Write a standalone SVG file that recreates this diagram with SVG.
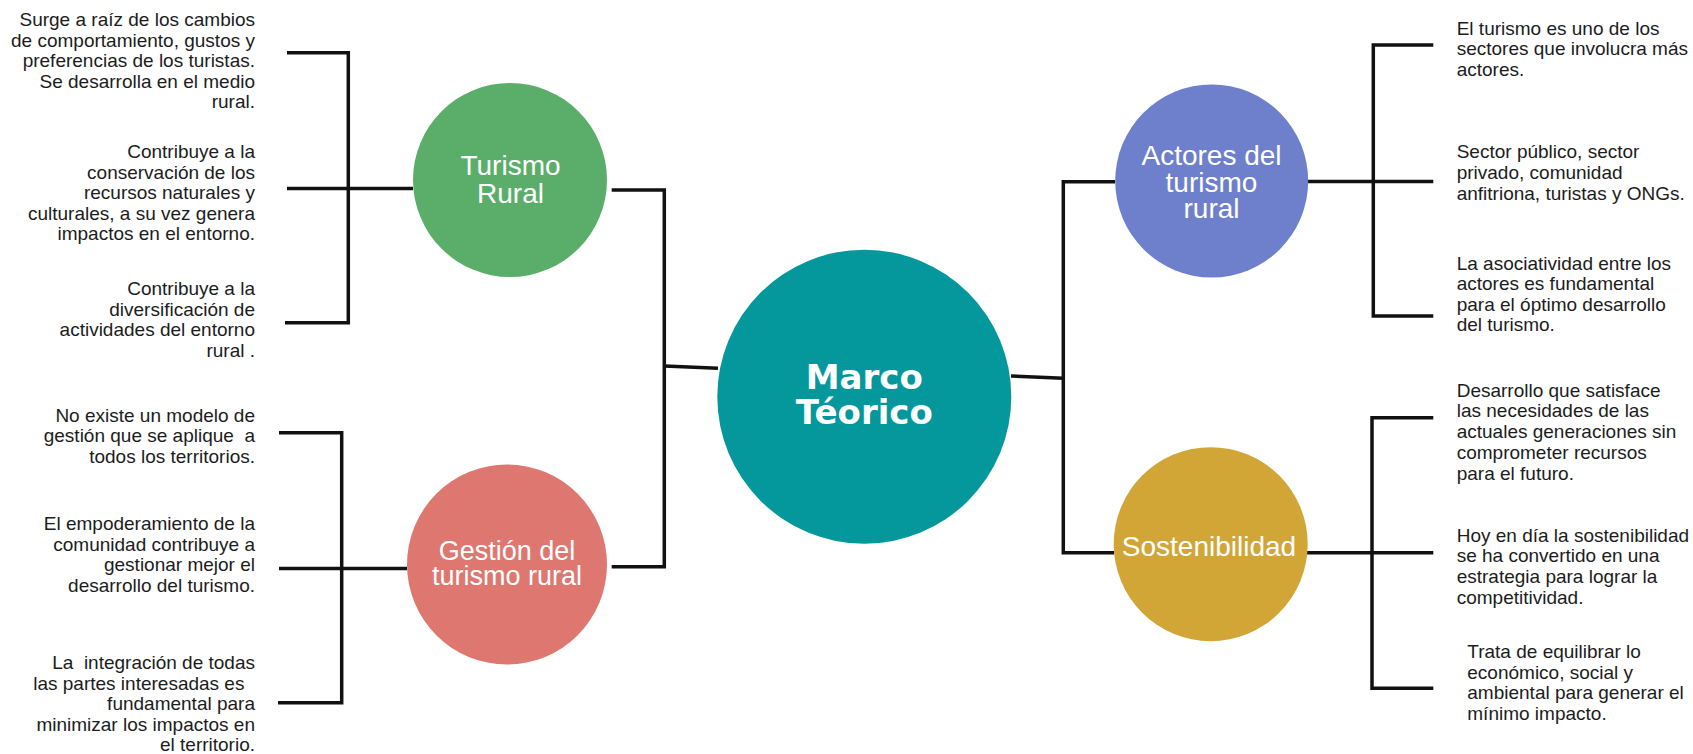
<svg xmlns="http://www.w3.org/2000/svg" width="1693" height="754" viewBox="0 0 1693 754">
<style>
  .bg { fill: #ffffff; }
  .conn { fill: none; stroke: #111111; stroke-width: 3.5; stroke-linecap: butt; stroke-linejoin: miter; }
  .body { font-family: "Liberation Sans", Arial, sans-serif; font-size: 19px; fill: #1c1c1c; white-space: pre; }
  .left { text-anchor: end; }
  .label { font-family: "Liberation Sans", Arial, sans-serif; font-size: 28px; fill: #ffffff; text-anchor: middle; }
  .title { font-family: "DejaVu Sans", sans-serif; font-weight: bold; font-size: 34px; fill: #ffffff; text-anchor: middle; }
</style>
<rect class="bg" x="0" y="0" width="1693" height="754"/>

<g id="connectors">
  <!-- left upper bracket (Turismo Rural) -->
  <path class="conn" d="M287,52.7 H348.3 V322.7 H285"/>
  <path class="conn" d="M287,188.5 H413"/>
  <!-- left lower bracket (Gestión) -->
  <path class="conn" d="M279,432.7 H341.7 V702.7 H278"/>
  <path class="conn" d="M279,568.5 H407"/>
  <!-- center-left bracket -->
  <path class="conn" d="M611.7,190 H664.3 V566.7 H611.7"/>
  <path class="conn" d="M664.3,366 L718,368.3"/>
  <!-- center-right bracket -->
  <path class="conn" d="M1011,376 L1063.3,378.3"/>
  <path class="conn" d="M1115,181.7 H1063.3 V552.7 H1114"/>
  <!-- right upper bracket (Actores) -->
  <path class="conn" d="M1433.3,45 H1373.3 V316 H1433.3"/>
  <path class="conn" d="M1308,181.5 H1433.3"/>
  <!-- right lower bracket (Sostenibilidad) -->
  <path class="conn" d="M1433.3,417.7 H1372 V688.3 H1433.3"/>
  <path class="conn" d="M1307,552.7 H1433.3"/>
</g>

<g id="node-marco">
  <circle cx="864.3" cy="396.7" r="147" fill="#04979C"/>
  <text class="title"><tspan x="864.3" y="389.3">Marco</tspan><tspan x="864.3" y="424">Téorico</tspan></text>
</g>

<g id="node-turismo-rural">
  <circle cx="510" cy="180" r="97" fill="#5BAE6A"/>
  <text class="label"><tspan x="510.5" y="175">Turismo</tspan><tspan x="510.5" y="202.7">Rural</tspan></text>
</g>

<g id="node-gestion">
  <circle cx="507" cy="564.5" r="100" fill="#DE7770"/>
  <text class="label" style="font-size:27px"><tspan x="507" y="560">Gestión del</tspan><tspan x="507" y="585">turismo rural</tspan></text>
</g>

<g id="node-actores">
  <circle cx="1211.7" cy="181" r="96.5" fill="#6E80CC"/>
  <text class="label"><tspan x="1211.5" y="165">Actores del</tspan><tspan x="1211.5" y="191.7">turismo</tspan><tspan x="1211.5" y="218.3">rural</tspan></text>
</g>

<g id="node-sostenibilidad">
  <circle cx="1210.7" cy="544.2" r="97" fill="#D1A637"/>
  <text class="label"><tspan x="1209" y="556">Sostenibilidad</tspan></text>
</g>

<g id="text-tr-1">
  <text class="body left"><tspan x="255" y="26">Surge a raíz de los cambios</tspan><tspan x="255" y="46.5">de comportamiento, gustos y</tspan><tspan x="255" y="67">preferencias de los turistas.</tspan><tspan x="255" y="87.5">Se desarrolla en el medio</tspan><tspan x="255" y="108">rural.</tspan></text>
</g>
<g id="text-tr-2">
  <text class="body left"><tspan x="255" y="158">Contribuye a la</tspan><tspan x="255" y="178.5">conservación de los</tspan><tspan x="255" y="199">recursos naturales y</tspan><tspan x="255" y="219.5">culturales, a su vez genera</tspan><tspan x="255" y="240">impactos en el entorno.</tspan></text>
</g>
<g id="text-tr-3">
  <text class="body left"><tspan x="255" y="295">Contribuye a la</tspan><tspan x="255" y="315.5">diversificación de</tspan><tspan x="255" y="336">actividades del entorno</tspan><tspan x="255" y="356.5">rural .</tspan></text>
</g>
<g id="text-g-1">
  <text class="body left"><tspan x="255" y="421.5">No existe un modelo de</tspan><tspan x="255" y="442">gestión que se aplique  a</tspan><tspan x="255" y="462.5">todos los territorios.</tspan></text>
</g>
<g id="text-g-2">
  <text class="body left"><tspan x="255" y="530">El empoderamiento de la</tspan><tspan x="255" y="550.5">comunidad contribuye a</tspan><tspan x="255" y="571">gestionar mejor el</tspan><tspan x="255" y="591.5">desarrollo del turismo.</tspan></text>
</g>
<g id="text-g-3">
  <text class="body left"><tspan x="255" y="669">La  integración de todas</tspan><tspan x="255" y="689.5">las partes interesadas es  </tspan><tspan x="255" y="710">fundamental para</tspan><tspan x="255" y="730.5">minimizar los impactos en</tspan><tspan x="255" y="751">el territorio.</tspan></text>
</g>

<g id="text-a-1">
  <text class="body"><tspan x="1456.7" y="34.5">El turismo es uno de los</tspan><tspan x="1456.7" y="55.2">sectores que involucra más</tspan><tspan x="1456.7" y="75.9">actores.</tspan></text>
</g>
<g id="text-a-2">
  <text class="body"><tspan x="1456.7" y="157.5">Sector público, sector</tspan><tspan x="1456.7" y="178.5">privado, comunidad</tspan><tspan x="1456.7" y="199.5">anfitriona, turistas y ONGs.</tspan></text>
</g>
<g id="text-a-3">
  <text class="body"><tspan x="1456.7" y="269.5">La asociatividad entre los</tspan><tspan x="1456.7" y="290">actores es fundamental</tspan><tspan x="1456.7" y="310.5">para el óptimo desarrollo</tspan><tspan x="1456.7" y="331">del turismo.</tspan></text>
</g>
<g id="text-s-1">
  <text class="body"><tspan x="1456.7" y="396.5">Desarrollo que satisface</tspan><tspan x="1456.7" y="417.3">las necesidades de las</tspan><tspan x="1456.7" y="438">actuales generaciones sin</tspan><tspan x="1456.7" y="459">comprometer recursos</tspan><tspan x="1456.7" y="480">para el futuro.</tspan></text>
</g>
<g id="text-s-2">
  <text class="body"><tspan x="1456.7" y="541.7">Hoy en día la sostenibilidad</tspan><tspan x="1456.7" y="562.3">se ha convertido en una</tspan><tspan x="1456.7" y="583">estrategia para lograr la</tspan><tspan x="1456.7" y="603.5">competitividad.</tspan></text>
</g>
<g id="text-s-3">
  <text class="body"><tspan x="1467.3" y="658.3">Trata de equilibrar lo</tspan><tspan x="1467.3" y="678.8">económico, social y</tspan><tspan x="1467.3" y="699.3">ambiental para generar el</tspan><tspan x="1467.3" y="720">mínimo impacto.</tspan></text>
</g>
</svg>
